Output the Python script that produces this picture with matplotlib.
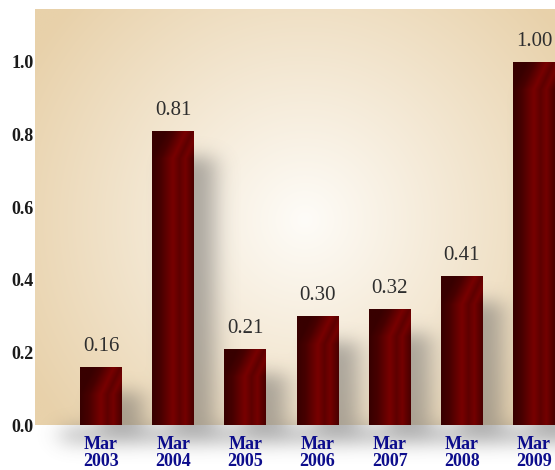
import numpy as np
import matplotlib
matplotlib.use("Agg")
import matplotlib.pyplot as plt
from matplotlib.colors import LinearSegmentedColormap, to_rgb

# ---- data ----
categories = ["Mar\n2003", "Mar\n2004", "Mar\n2005", "Mar\n2006", "Mar\n2007", "Mar\n2008", "Mar\n2009"]
values = [0.16, 0.81, 0.21, 0.30, 0.32, 0.41, 1.00]
value_labels = ["0.16", "0.81", "0.21", "0.30", "0.32", "0.41", "1.00"]
yticks = [0.0, 0.2, 0.4, 0.6, 0.8, 1.0]
ytick_labels = ["0.0", "0.2", "0.4", "0.6", "0.8", "1.0"]

W, H, DPI = 555, 470, 100
fig = plt.figure(figsize=(W / DPI, H / DPI), dpi=DPI, facecolor="white")
L, R, B, T = 35 / W, 1.0, (H - 425) / H, (H - 9) / H
ax = fig.add_axes([L, B, R - L, T - B])

x = np.arange(len(values))
xmin, xmax = -0.914, 6.29
ymin, ymax = 0.0, 1.146
bw = 0.58
ax.set_xlim(xmin, xmax)
ax.set_ylim(ymin, ymax)
AXW = W * (R - L)
AXH = H * (T - B)

# ---- radial background gradient ----
nx, ny = 400, 320
gx = np.linspace(xmin, xmax, nx)
gy = np.linspace(ymax, ymin, ny)
GX, GY = np.meshgrid(gx, gy)
px = (GX - xmin) / (xmax - xmin) * AXW
py = (GY - ymin) / (ymax - ymin) * AXH
cx, cy = 270, 205
d = np.sqrt((px - cx) ** 2 + (py - cy) ** 2) / 320.0
d = np.clip(d, 0, 1)
c0 = np.array(to_rgb("#fefcf8"))
c1 = np.array(to_rgb("#e8d1aa"))
t = d ** 1.0
bg = c0[None, None, :] * (1 - t[..., None]) + c1[None, None, :] * t[..., None]
ax.imshow(bg, extent=[xmin, xmax, ymin, ymax], aspect="auto", zorder=0, interpolation="bilinear")

# ---- soft shadows (blurred mask) ----
sy0, sy1 = -0.12, ymax
snx, sny = 540, 460
sxg = np.linspace(xmin, xmax + 0.4, snx)
syg = np.linspace(sy1, sy0, sny)
SX, SY = np.meshgrid(sxg, syg)
mask = np.zeros_like(SX)
dx = 0.28
dy = 0.07
for xi, v in zip(x, values):
    m = (SX > xi - bw / 2 + dx) & (SX < xi + bw / 2 + dx) & (SY < v - dy) & (SY > -0.05)
    mask[m] = 1.0
band = (SX > -0.55) & (SY < -0.005) & (SY > -0.05)
mask[band] = np.maximum(mask[band], 0.85)

def blur(a, sigma, axis):
    r = int(3 * sigma)
    k = np.exp(-0.5 * (np.arange(-r, r + 1) / sigma) ** 2)
    k /= k.sum()
    return np.apply_along_axis(lambda s: np.convolve(s, k, mode="same"), axis, a)

mask = blur(mask, 11, 1)
mask = blur(mask, 9, 0)
shadow = np.zeros((sny, snx, 4))
shadow[..., 0:3] = 0.38
shadow[..., 3] = mask * 0.5
ax.imshow(shadow, extent=[xmin, xmax + 0.4, sy0, sy1], aspect="auto", zorder=1,
          interpolation="bilinear", clip_on=False)

# ---- bars with gradient ----
bars = ax.bar(x, values, width=bw, color="#5a0000", zorder=2, linewidth=0)
cmap = LinearSegmentedColormap.from_list(
    "bar", [(0.0, "#380000"), (0.2, "#470000"), (0.5, "#780000"), (0.66, "#5e0000"),
            (0.8, "#740000"), (1.0, "#4a0000")])
for rect, v in zip(bars, values):
    x0 = rect.get_x()
    hpx = v / (ymax - ymin) * AXH
    gw, gh = 60, max(int(hpx), 10)
    u = np.linspace(0, 1, gw)[None, :]
    depth = np.linspace(0, hpx, gh)[:, None]
    shift = 0.32 * np.clip(1 - depth / 28.0, 0, 1)
    grad = np.clip(u - shift, 0, 1)
    im = ax.imshow(grad, cmap=cmap, vmin=0, vmax=1, extent=[x0, x0 + bw, 0, v],
                   aspect="auto", zorder=3, interpolation="bilinear")
    im.set_clip_path(rect)
    rect.set_facecolor("none")

# ---- value labels ----
for xi, v, lab in zip(x, values, value_labels):
    ax.annotate(lab, (xi, v), xytext=(0, 8), textcoords="offset points",
                ha="center", va="bottom", fontsize=15, color="#2e2e2e",
                family="Liberation Serif", zorder=5)

# ---- axes styling ----
for s in ax.spines.values():
    s.set_visible(False)
ax.set_yticks(yticks)
ax.set_yticklabels(ytick_labels, family="Liberation Serif", fontweight="bold",
                   fontsize=13, color="#1a1a1a")
ax.set_xticks(x)
ax.set_xticklabels(categories, family="Liberation Serif", fontweight="bold",
                   fontsize=13, color="#0d0d8c", linespacing=1.0)
ax.tick_params(axis="both", length=0)
ax.tick_params(axis="y", pad=1)
ax.tick_params(axis="x", pad=8)

fig.savefig("out.png", dpi=DPI, facecolor="white")
